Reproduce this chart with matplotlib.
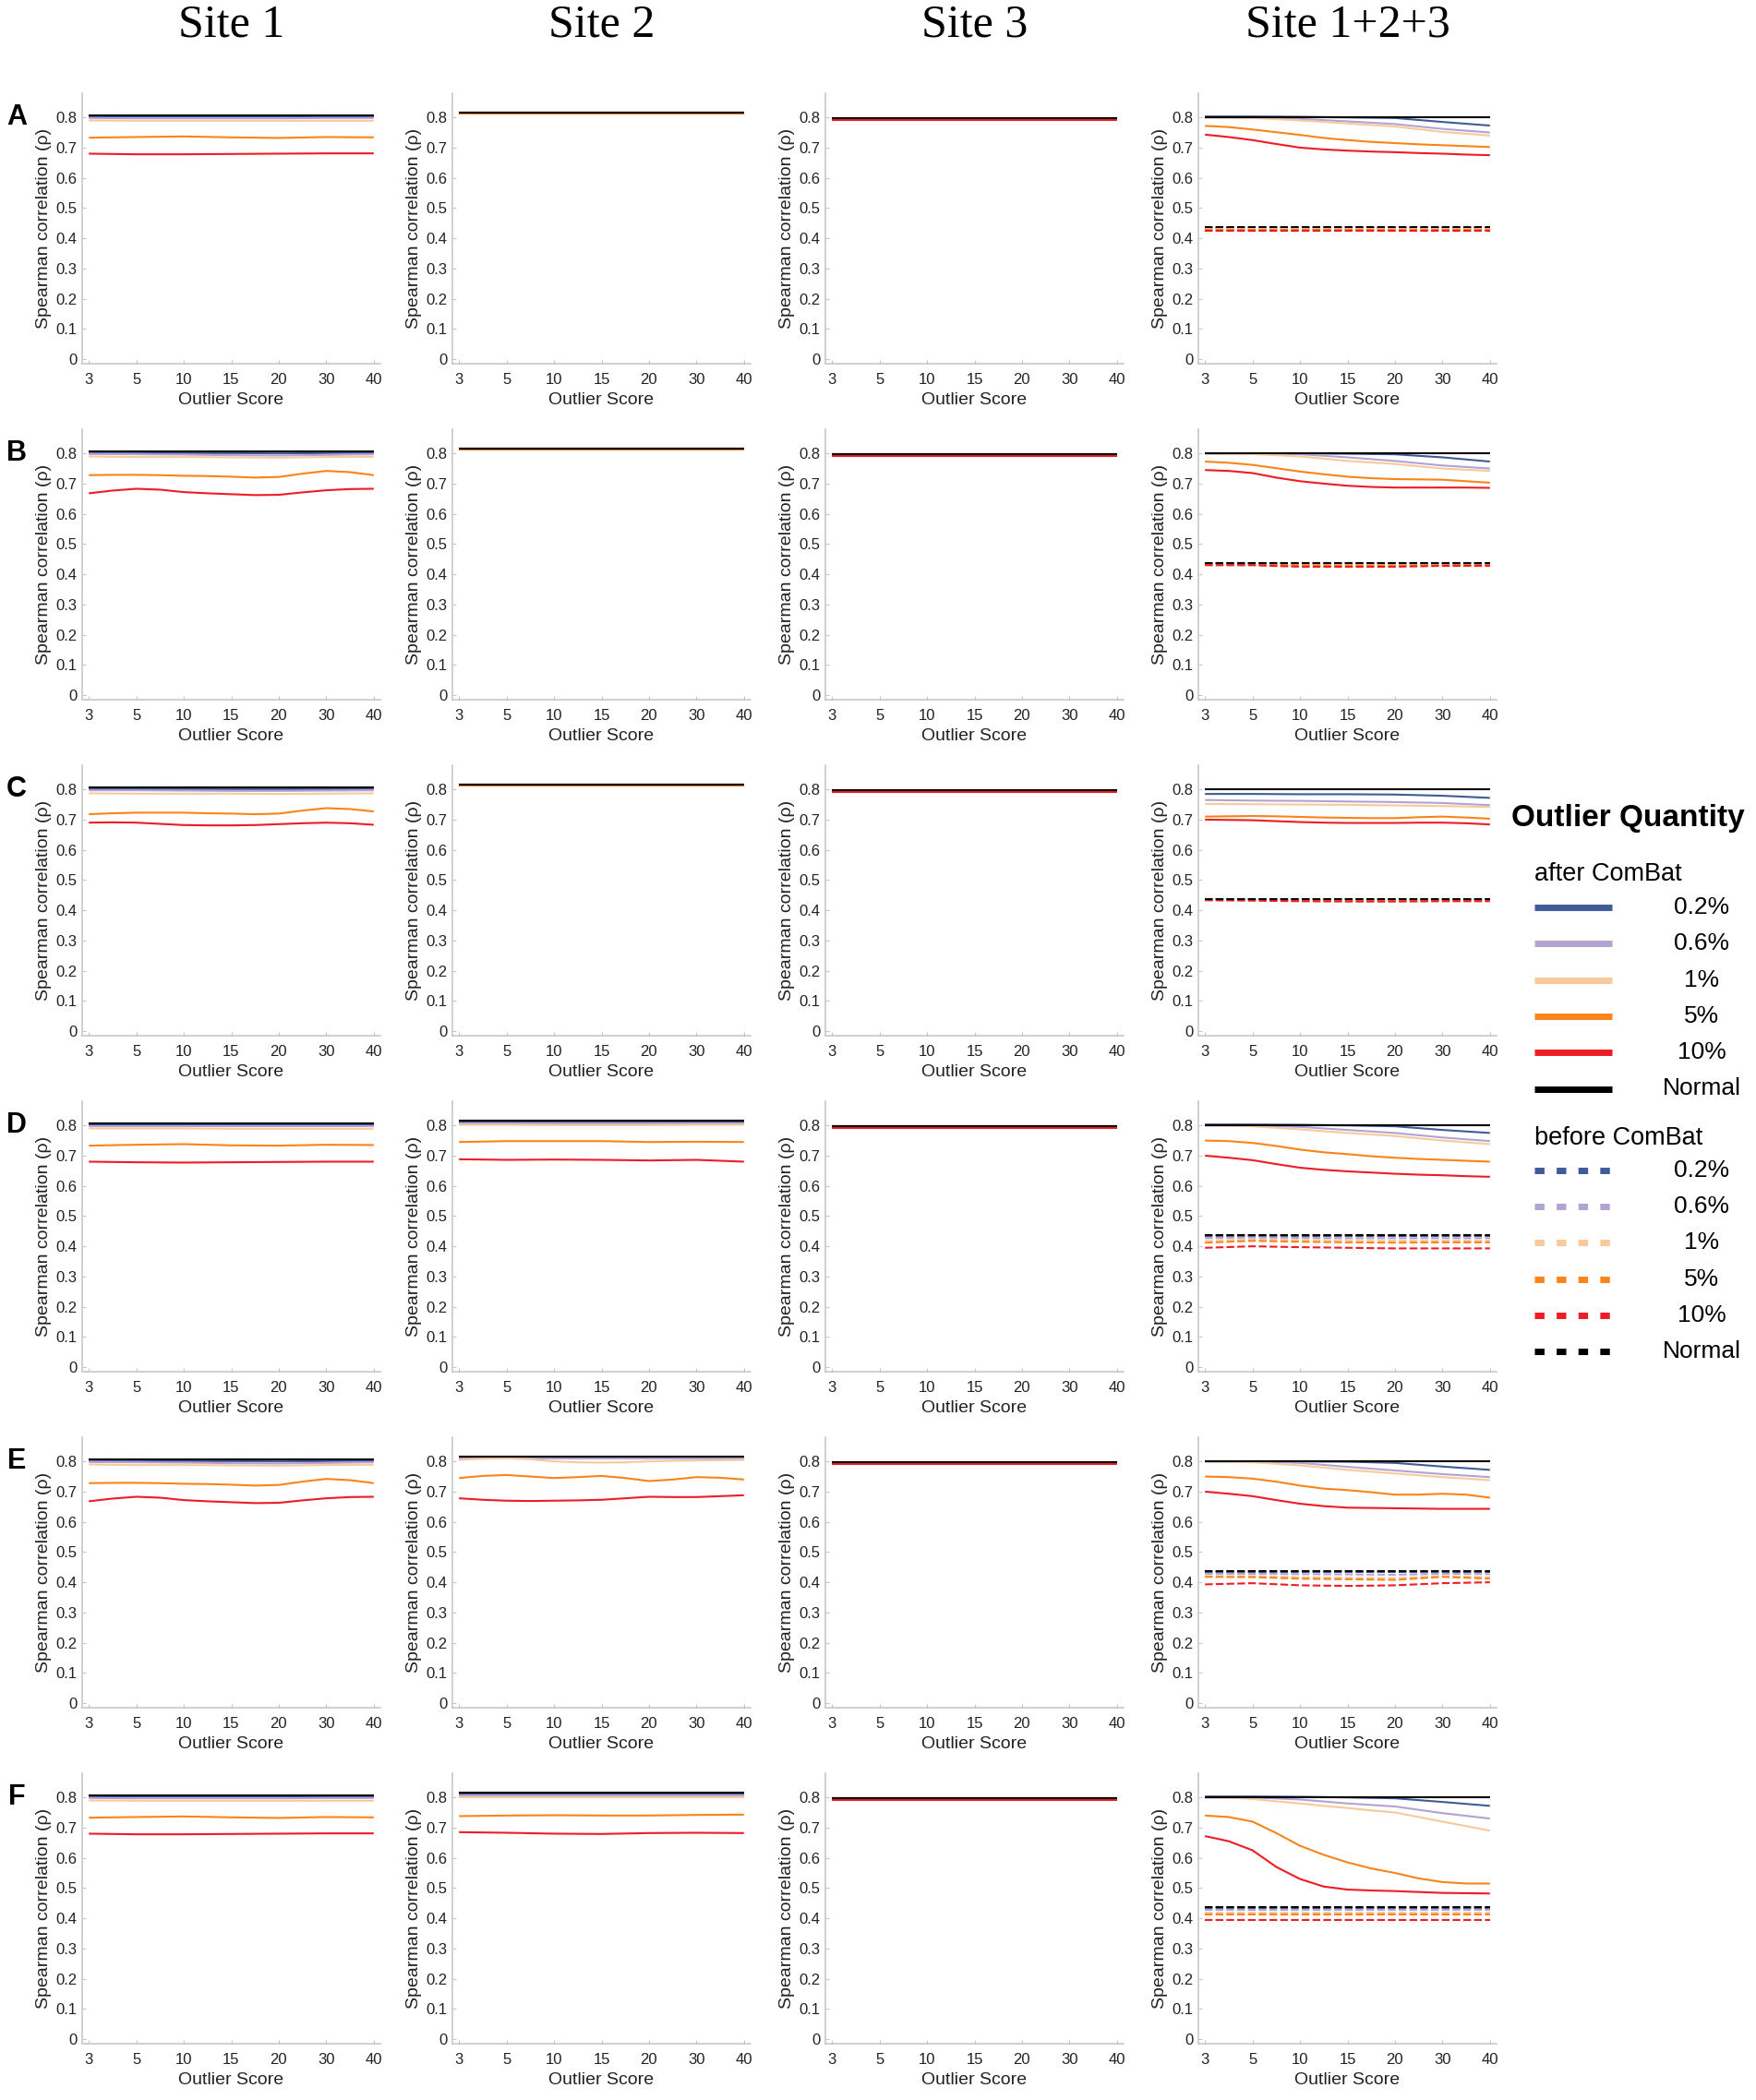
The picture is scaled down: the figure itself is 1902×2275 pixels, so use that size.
import matplotlib.pyplot as plt
import numpy as np

plt.rcParams['font.family'] = ['Liberation Sans', 'DejaVu Sans']

SITES = ['Site 1', 'Site 2', 'Site 3', 'Site 1+2+3']
ROWS = ['A', 'B', 'C', 'D', 'E', 'F']
SCORES = ['3', '5', '10', '15', '20', '30', '40']
QUANTITIES = ['0.2%', '0.6%', '1%', '5%', '10%', 'Normal']
COLORS = ['#3f5b9a', '#b2a3d3', '#f8c99b', '#f9841a', '#ee1c25', '#000000']

# each panel: one series per quantity (order as QUANTITIES), values at the
# score ticks (7 values) or at ticks and half-steps (13 values)
A1 = [[0.803, 0.803, 0.803, 0.803, 0.803, 0.803, 0.803],
      [0.798, 0.797, 0.797, 0.797, 0.797, 0.798, 0.798],
      [0.790, 0.789, 0.789, 0.789, 0.789, 0.789, 0.789],
      [0.733, 0.735, 0.737, 0.734, 0.732, 0.735, 0.734],
      [0.680, 0.678, 0.678, 0.679, 0.680, 0.681, 0.681],
      [0.808, 0.808, 0.808, 0.808, 0.808, 0.808, 0.808]]
A2 = [[0.815, 0.815, 0.815, 0.815, 0.815, 0.815, 0.815],
      [0.815, 0.815, 0.815, 0.815, 0.815, 0.815, 0.815],
      [0.815, 0.815, 0.815, 0.815, 0.815, 0.815, 0.815],
      [0.813, 0.813, 0.813, 0.813, 0.813, 0.813, 0.813],
      [0.815, 0.815, 0.815, 0.815, 0.815, 0.815, 0.815],
      [0.816, 0.816, 0.816, 0.816, 0.816, 0.816, 0.816]]
A3 = [[0.797, 0.797, 0.797, 0.797, 0.797, 0.797, 0.797],
      [0.797, 0.797, 0.797, 0.797, 0.797, 0.797, 0.797],
      [0.797, 0.797, 0.797, 0.797, 0.797, 0.797, 0.797],
      [0.796, 0.796, 0.796, 0.796, 0.796, 0.796, 0.796],
      [0.792, 0.792, 0.792, 0.792, 0.792, 0.792, 0.792],
      [0.798, 0.798, 0.798, 0.798, 0.798, 0.798, 0.798]]
A4 = [[0.803, 0.803, 0.802, 0.800, 0.798, 0.785, 0.773],
      [0.800, 0.800, 0.795, 0.787, 0.778, 0.762, 0.750],
      [0.800, 0.798, 0.790, 0.780, 0.770, 0.752, 0.740],
      [0.772, 0.768, 0.760, 0.751, 0.742, 0.732, 0.725, 0.719, 0.715, 0.711, 0.708, 0.705, 0.702],
      [0.743, 0.735, 0.725, 0.712, 0.700, 0.694, 0.690, 0.687, 0.685, 0.682, 0.680, 0.677, 0.675],
      [0.800, 0.800, 0.800, 0.800, 0.800, 0.800, 0.800]]
A4_before = [[0.435, 0.435, 0.435, 0.435, 0.435, 0.435, 0.435],
             [0.433, 0.433, 0.433, 0.433, 0.433, 0.433, 0.433],
             [0.430, 0.430, 0.430, 0.430, 0.430, 0.430, 0.430],
             [0.428, 0.428, 0.428, 0.428, 0.428, 0.428, 0.428],
             [0.424, 0.424, 0.424, 0.424, 0.424, 0.424, 0.424],
             [0.437, 0.437, 0.437, 0.437, 0.437, 0.437, 0.437]]

B1 = [[0.800, 0.800, 0.801, 0.801, 0.800, 0.801, 0.802],
      [0.798, 0.797, 0.796, 0.794, 0.793, 0.795, 0.797],
      [0.790, 0.788, 0.788, 0.787, 0.786, 0.788, 0.789],
      [0.728, 0.729, 0.729, 0.728, 0.726, 0.725, 0.723, 0.720, 0.722, 0.733, 0.742, 0.738, 0.728],
      [0.668, 0.677, 0.683, 0.680, 0.672, 0.668, 0.665, 0.662, 0.663, 0.671, 0.678, 0.682, 0.683],
      [0.808, 0.808, 0.808, 0.808, 0.808, 0.808, 0.808]]
B2 = A2
B3 = A3
B4 = [[0.800, 0.800, 0.800, 0.799, 0.797, 0.787, 0.773],
      [0.800, 0.800, 0.797, 0.787, 0.775, 0.760, 0.750],
      [0.800, 0.798, 0.790, 0.775, 0.765, 0.750, 0.742],
      [0.773, 0.769, 0.762, 0.751, 0.740, 0.731, 0.723, 0.718, 0.715, 0.714, 0.713, 0.708, 0.703],
      [0.745, 0.742, 0.735, 0.720, 0.708, 0.700, 0.693, 0.689, 0.687, 0.687, 0.687, 0.687, 0.686],
      [0.800, 0.800, 0.800, 0.800, 0.800, 0.800, 0.800]]
B4_before = [[0.436, 0.436, 0.436, 0.436, 0.436, 0.436, 0.436],
             [0.434, 0.434, 0.434, 0.434, 0.434, 0.434, 0.434],
             [0.433, 0.433, 0.432, 0.432, 0.432, 0.433, 0.433],
             [0.432, 0.432, 0.430, 0.429, 0.429, 0.430, 0.431],
             [0.430, 0.430, 0.425, 0.425, 0.425, 0.428, 0.428],
             [0.437, 0.437, 0.437, 0.437, 0.437, 0.437, 0.437]]

C1 = [[0.801, 0.801, 0.801, 0.801, 0.801, 0.801, 0.802],
      [0.797, 0.797, 0.796, 0.795, 0.795, 0.796, 0.797],
      [0.787, 0.786, 0.786, 0.786, 0.785, 0.786, 0.787],
      [0.718, 0.721, 0.723, 0.723, 0.723, 0.721, 0.720, 0.718, 0.720, 0.730, 0.738, 0.735, 0.727],
      [0.690, 0.691, 0.690, 0.686, 0.682, 0.681, 0.681, 0.682, 0.685, 0.688, 0.690, 0.688, 0.683],
      [0.808, 0.808, 0.808, 0.808, 0.808, 0.808, 0.808]]
C2 = A2
C3 = A3
C4 = [[0.785, 0.785, 0.784, 0.784, 0.783, 0.779, 0.772],
      [0.765, 0.763, 0.762, 0.760, 0.758, 0.755, 0.748],
      [0.752, 0.751, 0.750, 0.749, 0.747, 0.745, 0.742],
      [0.710, 0.711, 0.712, 0.711, 0.709, 0.707, 0.706, 0.705, 0.705, 0.708, 0.710, 0.707, 0.703],
      [0.700, 0.699, 0.698, 0.695, 0.692, 0.690, 0.689, 0.689, 0.689, 0.690, 0.690, 0.688, 0.684],
      [0.800, 0.800, 0.800, 0.800, 0.800, 0.800, 0.800]]
C4_before = [[0.437, 0.437, 0.436, 0.436, 0.436, 0.436, 0.436],
             [0.436, 0.436, 0.435, 0.435, 0.435, 0.435, 0.435],
             [0.435, 0.435, 0.434, 0.433, 0.433, 0.434, 0.434],
             [0.435, 0.434, 0.432, 0.432, 0.432, 0.433, 0.433],
             [0.433, 0.432, 0.430, 0.429, 0.429, 0.430, 0.430],
             [0.437, 0.437, 0.437, 0.437, 0.437, 0.437, 0.437]]

D1 = [[0.803, 0.803, 0.803, 0.803, 0.803, 0.803, 0.803],
      [0.798, 0.798, 0.798, 0.798, 0.798, 0.798, 0.798],
      [0.790, 0.790, 0.790, 0.789, 0.789, 0.789, 0.789],
      [0.733, 0.736, 0.738, 0.734, 0.733, 0.736, 0.735],
      [0.680, 0.678, 0.677, 0.678, 0.679, 0.680, 0.680],
      [0.808, 0.808, 0.808, 0.808, 0.808, 0.808, 0.808]]
D2 = [[0.812, 0.812, 0.812, 0.812, 0.812, 0.812, 0.812],
      [0.806, 0.806, 0.806, 0.806, 0.806, 0.806, 0.806],
      [0.802, 0.802, 0.801, 0.801, 0.801, 0.802, 0.802],
      [0.745, 0.748, 0.748, 0.748, 0.745, 0.746, 0.745],
      [0.688, 0.686, 0.687, 0.686, 0.684, 0.686, 0.680],
      [0.816, 0.816, 0.816, 0.816, 0.816, 0.816, 0.816]]
D3 = A3
D4 = [[0.803, 0.803, 0.802, 0.800, 0.797, 0.785, 0.775],
      [0.800, 0.800, 0.795, 0.785, 0.775, 0.760, 0.748],
      [0.800, 0.797, 0.787, 0.775, 0.765, 0.750, 0.738],
      [0.750, 0.748, 0.742, 0.732, 0.720, 0.711, 0.705, 0.698, 0.693, 0.689, 0.686, 0.683, 0.680],
      [0.700, 0.693, 0.685, 0.672, 0.660, 0.653, 0.648, 0.644, 0.640, 0.637, 0.635, 0.632, 0.630],
      [0.800, 0.800, 0.800, 0.800, 0.800, 0.800, 0.800]]
D4_before = [[0.435, 0.435, 0.435, 0.435, 0.435, 0.435, 0.435],
             [0.428, 0.429, 0.428, 0.427, 0.427, 0.427, 0.427],
             [0.420, 0.422, 0.421, 0.420, 0.419, 0.419, 0.419],
             [0.412, 0.418, 0.415, 0.413, 0.412, 0.413, 0.413],
             [0.395, 0.400, 0.397, 0.395, 0.393, 0.393, 0.393],
             [0.437, 0.437, 0.437, 0.437, 0.437, 0.437, 0.437]]

E1 = [[0.800, 0.800, 0.801, 0.801, 0.800, 0.801, 0.802],
      [0.798, 0.797, 0.796, 0.794, 0.793, 0.795, 0.797],
      [0.790, 0.788, 0.788, 0.787, 0.786, 0.788, 0.789],
      [0.728, 0.729, 0.729, 0.728, 0.726, 0.725, 0.723, 0.720, 0.722, 0.733, 0.742, 0.738, 0.728],
      [0.668, 0.677, 0.683, 0.680, 0.672, 0.668, 0.665, 0.662, 0.663, 0.671, 0.678, 0.682, 0.683],
      [0.808, 0.808, 0.808, 0.808, 0.808, 0.808, 0.808]]
E2 = [[0.812, 0.812, 0.812, 0.812, 0.812, 0.812, 0.812],
      [0.809, 0.809, 0.809, 0.809, 0.809, 0.809, 0.809],
      [0.805, 0.809, 0.810, 0.807, 0.800, 0.797, 0.796, 0.797, 0.800, 0.802, 0.803, 0.804, 0.805],
      [0.745, 0.752, 0.755, 0.750, 0.745, 0.748, 0.752, 0.745, 0.735, 0.740, 0.748, 0.746, 0.740],
      [0.678, 0.673, 0.670, 0.669, 0.670, 0.671, 0.673, 0.678, 0.683, 0.682, 0.682, 0.685, 0.688],
      [0.816, 0.816, 0.816, 0.816, 0.816, 0.816, 0.816]]
E3 = A3
E4 = [[0.800, 0.800, 0.800, 0.799, 0.795, 0.783, 0.772],
      [0.800, 0.800, 0.795, 0.782, 0.770, 0.758, 0.748],
      [0.800, 0.797, 0.787, 0.772, 0.760, 0.748, 0.738],
      [0.750, 0.748, 0.743, 0.733, 0.720, 0.710, 0.705, 0.698, 0.690, 0.690, 0.693, 0.690, 0.680],
      [0.700, 0.693, 0.685, 0.672, 0.660, 0.652, 0.647, 0.646, 0.645, 0.644, 0.643, 0.643, 0.643],
      [0.800, 0.800, 0.800, 0.800, 0.800, 0.800, 0.800]]
E4_before = [[0.435, 0.435, 0.435, 0.435, 0.435, 0.435, 0.435],
             [0.428, 0.428, 0.427, 0.426, 0.425, 0.428, 0.427],
             [0.420, 0.420, 0.417, 0.415, 0.414, 0.420, 0.417],
             [0.418, 0.417, 0.412, 0.410, 0.408, 0.418, 0.412],
             [0.393, 0.397, 0.390, 0.388, 0.390, 0.397, 0.400],
             [0.437, 0.437, 0.437, 0.437, 0.437, 0.437, 0.437]]

F1 = [[0.803, 0.803, 0.803, 0.803, 0.803, 0.803, 0.803],
      [0.798, 0.797, 0.797, 0.797, 0.797, 0.798, 0.798],
      [0.790, 0.789, 0.789, 0.789, 0.789, 0.789, 0.789],
      [0.733, 0.735, 0.737, 0.734, 0.732, 0.735, 0.734],
      [0.680, 0.678, 0.678, 0.679, 0.680, 0.681, 0.681],
      [0.808, 0.808, 0.808, 0.808, 0.808, 0.808, 0.808]]
F2 = [[0.813, 0.813, 0.813, 0.813, 0.813, 0.813, 0.813],
      [0.807, 0.807, 0.807, 0.807, 0.807, 0.807, 0.807],
      [0.802, 0.802, 0.802, 0.802, 0.802, 0.802, 0.802],
      [0.738, 0.740, 0.741, 0.740, 0.740, 0.742, 0.743],
      [0.685, 0.683, 0.680, 0.679, 0.682, 0.683, 0.682],
      [0.816, 0.816, 0.816, 0.816, 0.816, 0.816, 0.816]]
F3 = A3
F4 = [[0.803, 0.803, 0.802, 0.800, 0.797, 0.785, 0.772],
      [0.800, 0.800, 0.793, 0.780, 0.770, 0.748, 0.730],
      [0.800, 0.799, 0.795, 0.787, 0.780, 0.772, 0.765, 0.757, 0.750, 0.735, 0.720, 0.705, 0.690],
      [0.740, 0.735, 0.720, 0.682, 0.640, 0.610, 0.585, 0.565, 0.550, 0.532, 0.520, 0.515, 0.515],
      [0.672, 0.655, 0.625, 0.570, 0.530, 0.505, 0.495, 0.492, 0.490, 0.487, 0.484, 0.483, 0.482],
      [0.800, 0.800, 0.800, 0.800, 0.800, 0.800, 0.800]]
F4_before = [[0.435, 0.435, 0.435, 0.435, 0.435, 0.435, 0.435],
             [0.428, 0.428, 0.428, 0.428, 0.428, 0.428, 0.428],
             [0.420, 0.420, 0.420, 0.420, 0.420, 0.420, 0.420],
             [0.412, 0.412, 0.412, 0.412, 0.412, 0.412, 0.412],
             [0.393, 0.393, 0.393, 0.393, 0.393, 0.393, 0.393],
             [0.437, 0.437, 0.437, 0.437, 0.437, 0.437, 0.437]]

AFTER = [[A1, A2, A3, A4], [B1, B2, B3, B4], [C1, C2, C3, C4],
         [D1, D2, D3, D4], [E1, E2, E3, E4], [F1, F2, F3, F4]]
BEFORE = [A4_before, B4_before, C4_before, D4_before, E4_before, F4_before]

# layout in pixels of the 1902x2275 canvas
W, H = 1902, 2275
COL_LEFT = [89, 490, 894, 1298]
AX_W, AX_H = 323, 293
ROW_BOTTOM0, ROW_STEP = 394, 364
GRAY = '#c4c4c4'
TXT = '#222222'

fig = plt.figure(figsize=(W / 100, H / 100), dpi=100)

for r in range(6):
    bottom = ROW_BOTTOM0 + r * ROW_STEP
    for c in range(4):
        ax = fig.add_axes([COL_LEFT[c] / W, 1 - bottom / H, AX_W / W, AX_H / H])
        for k, series in enumerate(AFTER[r][c]):
            xs = np.linspace(0, len(SCORES) - 1, len(series))
            ax.plot(xs, series, color=COLORS[k], lw=1.5, solid_capstyle='butt')
        if c == 3:
            for k, series in enumerate(BEFORE[r]):
                xs = np.linspace(0, len(SCORES) - 1, len(series))
                ax.plot(xs, series, color=COLORS[k], lw=1.5,
                        linestyle=(0, (4, 1.6)), dash_capstyle='butt')
        ax.set_xlim(-0.14, 6.14)
        ax.set_ylim(-0.015, 0.88)
        ax.set_xticks(range(len(SCORES)))
        ax.set_xticklabels(SCORES)
        yt = np.arange(0, 0.81, 0.1)
        ax.set_yticks(yt)
        ax.set_yticklabels(['0'] + ['%.1f' % v for v in yt[1:]])
        for s in ['top', 'right']:
            ax.spines[s].set_visible(False)
        for s in ['left', 'bottom']:
            ax.spines[s].set_color(GRAY)
            ax.spines[s].set_linewidth(1.1)
        ax.tick_params(axis='x', direction='in', length=3, color=GRAY,
                       labelsize=12, labelcolor=TXT, pad=7.5)
        ax.tick_params(axis='y', direction='in', length=3, color=GRAY,
                       labelsize=12, labelcolor=TXT, pad=4)
        ax.set_xlabel('Outlier Score', fontsize=14, color=TXT, labelpad=4)
        ax.set_ylabel('Spearman correlation (\u03c1)', fontsize=14, color=TXT, labelpad=3)
        if r == 0:
            fig.text((COL_LEFT[c] + AX_W / 2) / W, 1 - 27 / H, SITES[c],
                     family='Liberation Serif', fontsize=36, ha='center', va='center')
    fig.text(18 / W, 1 - (bottom - AX_H + 26) / H, ROWS[r], fontsize=22,
             fontweight='bold', ha='center', va='center')

# legend drawn in a canvas-sized overlay axes
leg = fig.add_axes([0, 0, 1, 1])
leg.set_xlim(0, W)
leg.set_ylim(H, 0)
leg.axis('off')
leg.patch.set_alpha(0)
leg.text(1763, 887, 'Outlier Quantity', fontsize=24, fontweight='bold',
         ha='center', va='center')
leg.text(1662, 947, 'after ComBat', fontsize=19.5, ha='left', va='center')
leg.text(1662, 1233, 'before ComBat', fontsize=19.5, ha='left', va='center')
for k, q in enumerate(QUANTITIES):
    y1 = 983 + k * 39.3
    leg.plot([1662, 1746], [y1, y1], color=COLORS[k], lw=5, solid_capstyle='butt')
    leg.text(1843, y1, q, fontsize=19, ha='center', va='center')
    y2 = 1268 + k * 39.2
    leg.plot([1662, 1746], [y2, y2], color=COLORS[k], lw=5,
             linestyle=(0, (1.5, 1.9)), dash_capstyle='butt')
    leg.text(1843, y2, q, fontsize=19, ha='center', va='center')

fig.savefig('out.png', dpi=100, facecolor='white')
